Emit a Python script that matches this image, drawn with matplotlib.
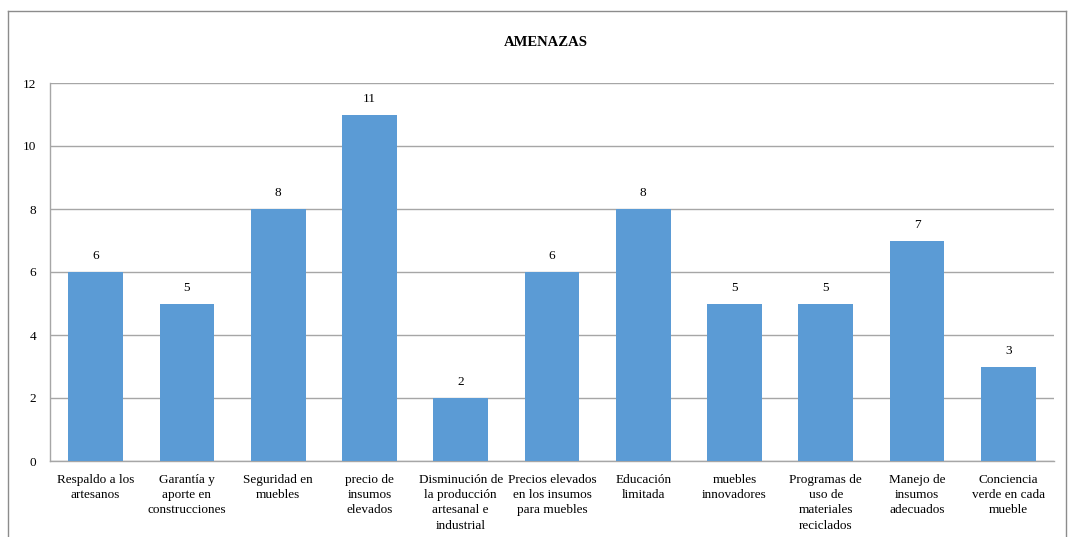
import matplotlib.pyplot as plt
from matplotlib.lines import Line2D

# Data
categories = [
    'Respaldo a los\nartesanos',
    'Garantía y\naporte en\nconstrucciones',
    'Seguridad en\nmuebles',
    'precio de\ninsumos\nelevados',
    'Disminución de\nla producción\nartesanal e\nindustrial',
    'Precios elevados\nen los insumos\npara muebles',
    'Educación\nlimitada',
    'muebles\ninnovadores',
    'Programas de\nuso de\nmateriales\nreciclados',
    'Manejo de\ninsumos\nadecuados',
    'Conciencia\nverde en cada\nmueble',
]
values = [6, 5, 8, 11, 2, 6, 8, 5, 5, 7, 3]
yticks = [0, 2, 4, 6, 8, 10, 12]
title = 'AMENAZAS'

plt.rcParams['font.family'] = ['Liberation Serif', 'DejaVu Serif']

fig = plt.figure(figsize=(10.69, 5.37), dpi=100)
ax = fig.add_axes([50 / 1069, 1 - 461 / 537, 1004 / 1069, 378 / 537])

x = range(len(categories))
bars = ax.bar(x, values, width=0.6, color='#5B9BD5', zorder=3)
for xi, v in zip(x, values):
    ax.annotate(str(v), (xi, v), xytext=(0, 7), textcoords='offset points',
                ha='center', va='bottom', fontsize=9.5)

ax.set_xlim(-0.5, len(categories) - 0.5)
ax.set_ylim(0, 12)
ax.set_yticks(yticks)
ax.set_xticks(list(x))
ax.set_xticklabels(categories, fontsize=9.5, linespacing=1.35)
ax.tick_params(axis='both', length=0, labelsize=9.5)
ax.tick_params(axis='x', pad=9.5)
ax.tick_params(axis='y', pad=10)
ax.grid(axis='y', color='#A6A6A6', linewidth=1, zorder=0)
for side in ['top', 'right']:
    ax.spines[side].set_visible(False)
for side in ['left', 'bottom']:
    ax.spines[side].set_color('#A6A6A6')
    ax.spines[side].set_linewidth(1)

fig.text(546 / 1069, 1 - 42 / 537, title, ha='center', va='center',
         fontsize=10.5, fontweight='bold')

# outer chart border
bx0, by0, bx1 = 8 / 1069, 1 - 11 / 537, 1066 / 1069
fig.add_artist(Line2D([bx0, bx1], [by0, by0], color='#8C8C8C', lw=1))
fig.add_artist(Line2D([bx0, bx0], [0, by0], color='#8C8C8C', lw=1))
fig.add_artist(Line2D([bx1, bx1], [0, by0], color='#8C8C8C', lw=1))

fig.savefig('out.png', dpi=100, facecolor='white')
